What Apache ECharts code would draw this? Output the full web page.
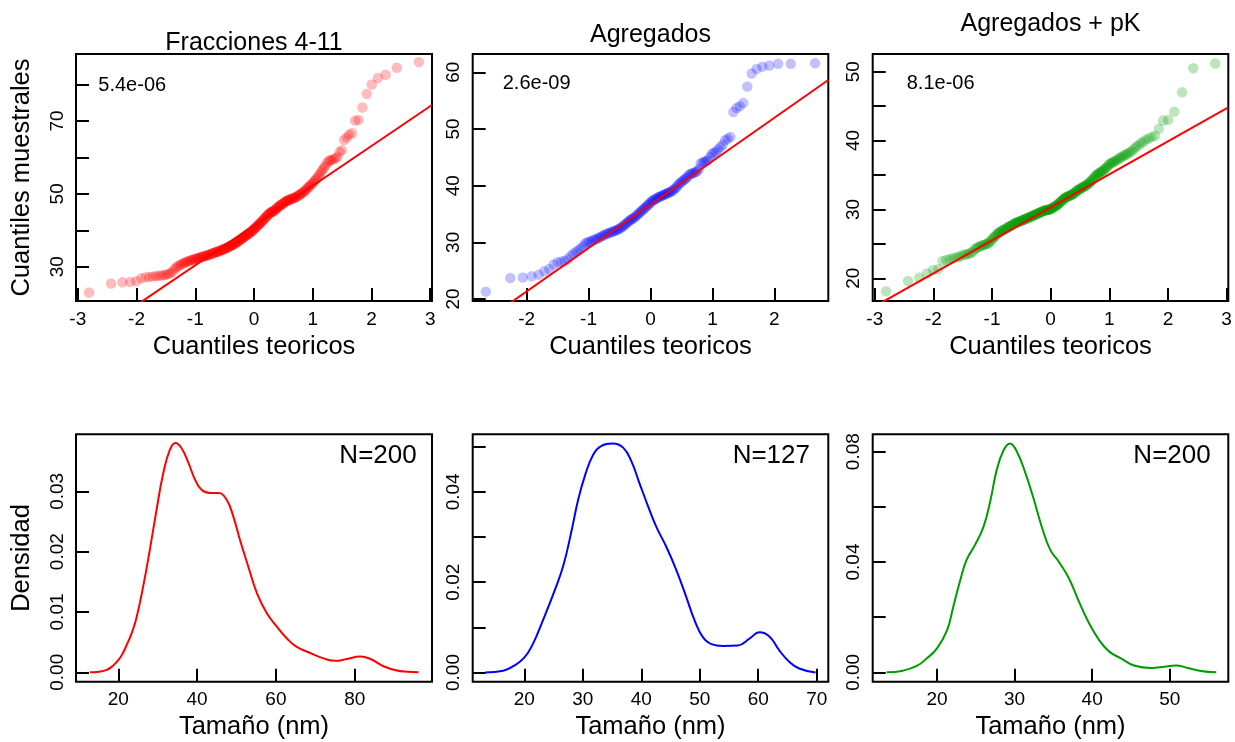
<!DOCTYPE html>
<html><head><meta charset="utf-8">
<script src="https://cdn.jsdelivr.net/npm/echarts@6/dist/echarts.min.js"></script>
<style>html,body{margin:0;padding:0;background:#fff}#c{width:1235px;height:742px}</style>
</head><body><div id="c"></div>
<script>
// ---------- DATA ----------
const qqTitles = ['Fracciones 4-11', 'Agregados', 'Agregados + pK'];
const pValueLabels = ['5.4e-06', '2.6e-09', '8.1e-06'];
const nLabels = ['N=200', 'N=127', 'N=200'];
const qqXName = 'Cuantiles teoricos';
const qqYName = 'Cuantiles muestrales';
const densXName = 'Tamaño (nm)';
const densYName = 'Densidad';

// sorted sample values (sample quantiles)
const fraccionesSample = [
 22.9,25.4,25.7,25.8,26.0,26.8,27.1,27.2,27.3,27.4,
 27.5,27.6,27.7,27.8,28.0,28.2,28.6,29.3,29.8,30.1,
 30.4,30.6,30.9,31.0,31.2,31.4,31.5,31.6,31.8,31.9,
 32.0,32.1,32.2,32.3,32.4,32.5,32.6,32.7,32.8,32.9,
 32.95,33.0,33.1,33.2,33.3,33.4,33.5,33.6,33.7,33.8,
 33.9,34.0,34.05,34.1,34.2,34.3,34.4,34.5,34.6,34.7,
 34.8,34.9,35.0,35.1,35.2,35.3,35.4,35.55,35.7,35.8,
 35.9,36.0,36.1,36.2,36.35,36.5,36.65,36.8,36.95,37.1,
 37.25,37.4,37.55,37.7,37.85,38.0,38.15,38.3,38.45,38.6,
 38.75,38.9,39.05,39.2,39.35,39.5,39.65,39.8,40.0,40.2,
 40.4,40.6,40.8,41.0,41.2,41.4,41.6,41.8,42.0,42.2,
 42.4,42.6,42.8,43.0,43.3,43.5,43.8,44.0,44.2,44.4,
 44.6,44.8,44.9,45.0,45.1,45.2,45.3,45.5,45.7,45.9,
 46.1,46.3,46.5,46.7,46.8,47.0,47.1,47.3,47.4,47.6,
 47.8,48.0,48.1,48.2,48.3,48.4,48.5,48.6,48.7,48.8,
 48.9,49.0,49.1,49.3,49.4,49.6,49.8,50.0,50.2,50.4,
 50.6,50.9,51.2,51.5,51.8,52.1,52.4,52.7,53.0,53.5,
 53.9,54.3,54.8,55.3,55.9,56.5,57.1,57.6,58.4,59.0,
 59.2,59.3,59.5,59.8,60.2,61.5,62.0,64.8,65.5,66.2,
 66.7,70.1,70.3,73.7,77.4,80.0,81.8,82.7,84.6,86.2
];
const agregadosSample = [
 21.3,23.7,23.8,24.0,24.3,24.9,25.3,26.1,26.5,26.6,
 26.7,27.0,27.6,28.0,28.3,28.6,28.9,29.3,29.8,30.0,
 30.1,30.2,30.4,30.5,30.6,30.8,30.9,31.1,31.2,31.4,
 31.5,31.6,31.7,31.8,31.9,32.0,32.1,32.2,32.3,32.5,
 32.6,32.8,33.0,33.2,33.4,33.6,33.8,34.0,34.1,34.2,
 34.4,34.6,34.8,35.0,35.2,35.4,35.6,35.8,36.0,36.2,
 36.4,36.6,36.8,37.0,37.3,37.4,37.5,37.6,37.8,37.9,
 38.0,38.1,38.2,38.3,38.4,38.5,38.6,38.7,38.8,38.9,
 39.0,39.2,39.4,39.6,39.8,40.2,40.4,40.6,40.8,41.0,
 41.2,41.4,41.7,42.0,42.1,42.2,42.3,42.4,42.6,43.0,
 43.9,44.1,44.2,44.3,44.5,45.0,45.6,45.8,46.0,46.4,
 46.8,47.2,48.0,48.3,48.6,53.0,53.7,54.0,54.6,57.5,
 59.8,60.6,61.0,61.2,61.5,61.5,61.6
];
const agregadosPkSample = [
 18.1,19.6,20.1,20.7,21.2,21.3,22.5,22.65,22.8,22.9,
 23.0,23.1,23.2,23.4,23.45,23.5,23.6,23.7,23.9,24.2,
 24.4,24.5,24.6,24.7,24.8,24.85,24.9,25.0,25.05,25.2,
 25.4,25.6,25.8,26.0,26.1,26.3,26.5,26.6,26.7,26.8,
 26.9,27.0,27.05,27.1,27.2,27.3,27.4,27.5,27.55,27.6,
 27.7,27.75,27.85,27.95,28.0,28.05,28.1,28.15,28.2,28.25,
 28.3,28.35,28.4,28.45,28.5,28.55,28.6,28.65,28.7,28.75,
 28.8,28.85,28.9,28.95,29.0,29.05,29.1,29.15,29.2,29.25,
 29.3,29.35,29.4,29.45,29.5,29.55,29.6,29.65,29.7,29.75,
 29.8,29.82,29.85,29.87,29.9,29.92,29.95,29.97,30.0,30.0,
 30.1,30.15,30.2,30.3,30.35,30.4,30.5,30.55,30.6,30.7,
 30.8,30.9,31.0,31.1,31.2,31.3,31.4,31.5,31.6,31.7,
 31.75,31.8,31.85,31.9,31.95,32.0,32.05,32.1,32.15,32.2,
 32.3,32.4,32.5,32.6,32.7,32.8,32.85,32.9,33.0,33.1,
 33.15,33.2,33.3,33.35,33.4,33.5,33.6,33.7,33.8,33.9,
 34.05,34.2,34.35,34.5,34.65,34.8,35.0,35.1,35.2,35.3,
 35.4,35.5,35.6,35.7,35.9,36.0,36.2,36.4,36.6,36.7,
 36.8,36.9,37.0,37.1,37.2,37.4,37.5,37.6,37.8,37.9,
 38.0,38.2,38.3,38.5,38.8,39.1,39.3,39.6,39.8,40.1,
 40.3,40.5,40.7,41.7,42.9,43.0,44.2,47.0,50.5,51.2
];
// reference line (qqline): intercept and slope
const qqIntercepts = [41.3, 36.65, 30.3];
const qqSlopes = [10.92, 7.66, 4.794];

// density curves [size nm, density]
const fraccionesDensity = [
 [12.8,0.0000],[15,0.0001],[17.05,0.0004],[18.5,0.0010],[20,0.0020],[21.1,0.0031],[22.1,0.0045],[23.4,0.0065],[24.6,0.0090],
 [26.3,0.0142],[28.0,0.0203],[29.7,0.0269],[31.4,0.0330],[33.1,0.0369],[34.5,0.0380],
 [36.1,0.0371],[37.8,0.0347],[39.5,0.0319],[41.2,0.0302],[43.3,0.0297],[45.4,0.0297],
 [47.5,0.0286],[49.2,0.0258],[50.9,0.0219],[53.0,0.0175],[55.2,0.0131],[57.7,0.0098],
 [60.2,0.0076],[62.8,0.0056],[65.3,0.0042],[68.7,0.0032],[72.1,0.0023],[75.1,0.0019],
 [78.0,0.0022],[81.4,0.0026],[84.0,0.0022],[87.3,0.0010],[90.7,0.0003],[93.5,0.0001],[96.2,0.0000]
];
const agregadosDensity = [
 [13.3,0.0000],[16.4,0.0004],[18.1,0.0014],[20.0,0.0033],[21.5,0.0064],[23.2,0.0116],
 [25.2,0.0182],[26.7,0.0238],[28.1,0.0315],[29.2,0.0382],[30.4,0.0437],[31.8,0.0483],
 [33.2,0.0502],[35.1,0.0507],[36.9,0.0498],[38.3,0.0468],[39.7,0.0419],[41.2,0.0367],
 [42.6,0.0322],[44.3,0.0278],[46.0,0.0227],[47.7,0.0167],[49.1,0.0116],[50.5,0.0079],
 [52.0,0.0063],[54.0,0.0059],[56.5,0.0060],[58.5,0.0075],[60.2,0.0089],[61.9,0.0080],
 [63.6,0.0049],[65.3,0.0024],[67.0,0.0009],[69.8,0.0000]
];
const agregadosPkDensity = [
 [13.5,0.0000],[15.6,0.0006],[17.4,0.0023],[18.7,0.0051],[20.0,0.0087],[21.3,0.0153],
 [22.1,0.0238],[23.0,0.0335],[23.8,0.0407],[24.9,0.0462],[26.0,0.0528],[26.9,0.0625],
 [27.7,0.0734],[28.6,0.0806],[29.4,0.0830],[30.3,0.0800],[31.4,0.0722],[32.5,0.0625],
 [33.5,0.0528],[34.6,0.0444],[35.7,0.0401],[37.0,0.0341],[38.3,0.0256],[39.6,0.0178],
 [40.9,0.0117],[42.2,0.0075],[43.7,0.0051],[45.4,0.0025],[47.6,0.0016],[49.3,0.0020],
 [50.8,0.0025],[52.3,0.0016],[54.0,0.0005],[56.0,0.0000]
];

// axis ranges, ticks and labels
const qqXRanges = [[-3.03, 3.03], [-2.87, 2.87], [-3.035, 3.03]];
const qqYRanges = [[20.58, 88.39], [19.65, 63.23], [16.70, 52.57]];
const qqXTicks = [[-3,-2,-1,0,1,2,3], [-2,-1,0,1,2], [-3,-2,-1,0,1,2,3]];
const qqYTicks = [[30,40,50,60,70,80], [20,30,40,50,60], [20,25,30,35,40,45,50]];
const qqYLabels = [[30,50,70], [20,30,40,50,60], [20,30,40,50]];
const densXRanges = [[9.26, 99.62], [11.18, 71.98], [11.71, 57.55]];
const densYRanges = [[-0.00156, 0.03945], [-0.00203, 0.05275], [-0.0034, 0.0863]];
const densXTicks = [[20,40,60,80], [20,30,40,50,60,70], [20,30,40,50]];
const densYTicks = [[0,0.01,0.02,0.03], [0,0.01,0.02,0.03,0.04,0.05], [0,0.02,0.04,0.06,0.08]];
const densYLabels = [[0,0.01,0.02,0.03], [0,0.02,0.04], [0,0.04,0.08]];

// ---------- RENDER ----------
const FONT = '"Liberation Sans", Arial, Helvetica, sans-serif';
const colors = ['rgb(255,0,0)', 'rgb(0,0,255)', 'rgb(0,155,0)'];
const pointColors = ['rgba(255,0,0,0.33)', 'rgba(0,0,255,0.3)', 'rgba(0,155,0,0.33)'];
const samples = [fraccionesSample, agregadosSample, agregadosPkSample];
const densities = [fraccionesDensity, agregadosDensity, agregadosPkDensity];

function qnorm(p) {
  const a=[-3.969683028665376e+01,2.209460984245205e+02,-2.759285104469687e+02,1.383577518672690e+02,-3.066479806614716e+01,2.506628277459239e+00];
  const b=[-5.447609879822406e+01,1.615858368580409e+02,-1.556989798598866e+02,6.680131188771972e+01,-1.328068155288572e+01];
  const c=[-7.784894002430293e-03,-3.223964580411365e-01,-2.400758277161838e+00,-2.549732539343734e+00,4.374664141464968e+00,2.938163982698783e+00];
  const d=[7.784695709041462e-03,3.224671290700398e-01,2.445134137142996e+00,3.754408661907416e+00];
  const pl=0.02425, ph=1-pl; let q,r;
  if (p<pl){q=Math.sqrt(-2*Math.log(p));return (((((c[0]*q+c[1])*q+c[2])*q+c[3])*q+c[4])*q+c[5])/((((d[0]*q+d[1])*q+d[2])*q+d[3])*q+1);}
  if (p<=ph){q=p-0.5;r=q*q;return (((((a[0]*r+a[1])*r+a[2])*r+a[3])*r+a[4])*r+a[5])*q/(((((b[0]*r+b[1])*r+b[2])*r+b[3])*r+b[4])*r+1);}
  q=Math.sqrt(-2*Math.log(1-p));return -(((((c[0]*q+c[1])*q+c[2])*q+c[3])*q+c[4])*q+c[5])/((((d[0]*q+d[1])*q+d[2])*q+d[3])*q+1);
}
function qqData(s){ const n=s.length; return s.map((v,i)=>[qnorm((i+0.5)/n), v]); }

const colLeft = [76, 472.7, 872.7], colW = [356, 355.6, 355.6];
const rowTop = [54, 434.3], rowH = [247, 247.4];
const grids = [], xAxes = [], yAxes = [], series = [], graphics = [];

function mkAxis(dim, gi, range, ticks, labels, fmt, margin) {
  return {
    type: 'value', gridIndex: gi, min: range[0], max: range[1], scale: true,
    axisLine: { show: false, onZero: false },
    splitLine: { show: false },
    axisTick: { show: true, inside: true, length: 13, lineStyle: { color: '#000', width: 2 }, customValues: ticks },
    axisLabel: { customValues: labels, color: '#000', fontSize: 19, fontFamily: FONT, margin: margin,
      rotate: dim === 'y' ? 90 : 0, formatter: fmt, showMinLabel: true, showMaxLabel: true }
  };
}
function txt(text, x, y, size, align, rot) {
  graphics.push({ type: 'text', x: x, y: y, rotation: rot || 0, silent: true,
    style: { text: text, fill: '#000', fontSize: size, fontFamily: FONT, align: align || 'center', verticalAlign: 'middle' } });
}

for (let r = 0; r < 2; r++) {
  for (let c = 0; c < 3; c++) {
    const gi = r * 3 + c;
    grids.push({ left: colLeft[c], top: rowTop[r], width: colW[c], height: rowH[r], show: true,
      borderColor: '#000', borderWidth: 2, backgroundColor: 'transparent' });
    const cx = colLeft[c] + colW[c] / 2;
    if (r === 0) {
      xAxes.push(mkAxis('x', gi, qqXRanges[c], qqXTicks[c], qqXTicks[c], v => String(v), 9));
      yAxes.push(mkAxis('y', gi, qqYRanges[c], qqYTicks[c], qqYLabels[c], v => String(v), 9));
      series.push({ type: 'scatter', xAxisIndex: gi, yAxisIndex: gi, data: qqData(samples[c]),
        symbol: 'circle', symbolSize: 10.5, itemStyle: { color: pointColors[c] }, z: 2 });
      const xr = qqXRanges[c];
      series.push({ type: 'line', xAxisIndex: gi, yAxisIndex: gi, clip: true, showSymbol: false, symbol: 'none',
        data: [[xr[0], qqIntercepts[c] + qqSlopes[c] * xr[0]], [xr[1], qqIntercepts[c] + qqSlopes[c] * xr[1]]],
        lineStyle: { color: 'rgb(255,0,0)', width: 2 }, z: 3 });
      txt(qqXName, cx, 346.7, 25.5);
    } else {
      xAxes.push(mkAxis('x', gi, densXRanges[c], densXTicks[c], densXTicks[c], v => String(v), 9));
      yAxes.push(mkAxis('y', gi, densYRanges[c], densYTicks[c], densYLabels[c], v => v.toFixed(2), 9));
      series.push({ type: 'line', xAxisIndex: gi, yAxisIndex: gi, data: densities[c], smooth: 0.45,
        showSymbol: false, symbol: 'none', clip: true, lineStyle: { color: colors[c], width: 2 }, z: 3 });
      txt(densXName, cx, 726.7, 25.5);
    }
  }
}
// titles and annotations
txt(qqTitles[0], 254, 43, 25);
txt(qqTitles[1], 650.5, 35, 25);
txt(qqTitles[2], 1050.5, 24, 25);
txt(pValueLabels[0], 98.3, 85, 20, 'left');
txt(pValueLabels[1], 502.7, 83.3, 20, 'left');
txt(pValueLabels[2], 906.7, 83.3, 20, 'left');
txt(nLabels[0], 416.7, 456, 26, 'right');
txt(nLabels[1], 810, 456, 26, 'right');
txt(nLabels[2], 1210.7, 456, 26, 'right');
txt(qqYName, 21.7, 177.5, 25.5, 'center', Math.PI / 2);
txt(densYName, 21.7, 558, 25.5, 'center', Math.PI / 2);

const chart = echarts.init(document.getElementById('c'), null, { renderer: 'canvas' });
chart.setOption({
  animation: false, backgroundColor: '#fff',
  grid: grids, xAxis: xAxes, yAxis: yAxes, series: series, graphic: graphics
});
</script></body></html>
